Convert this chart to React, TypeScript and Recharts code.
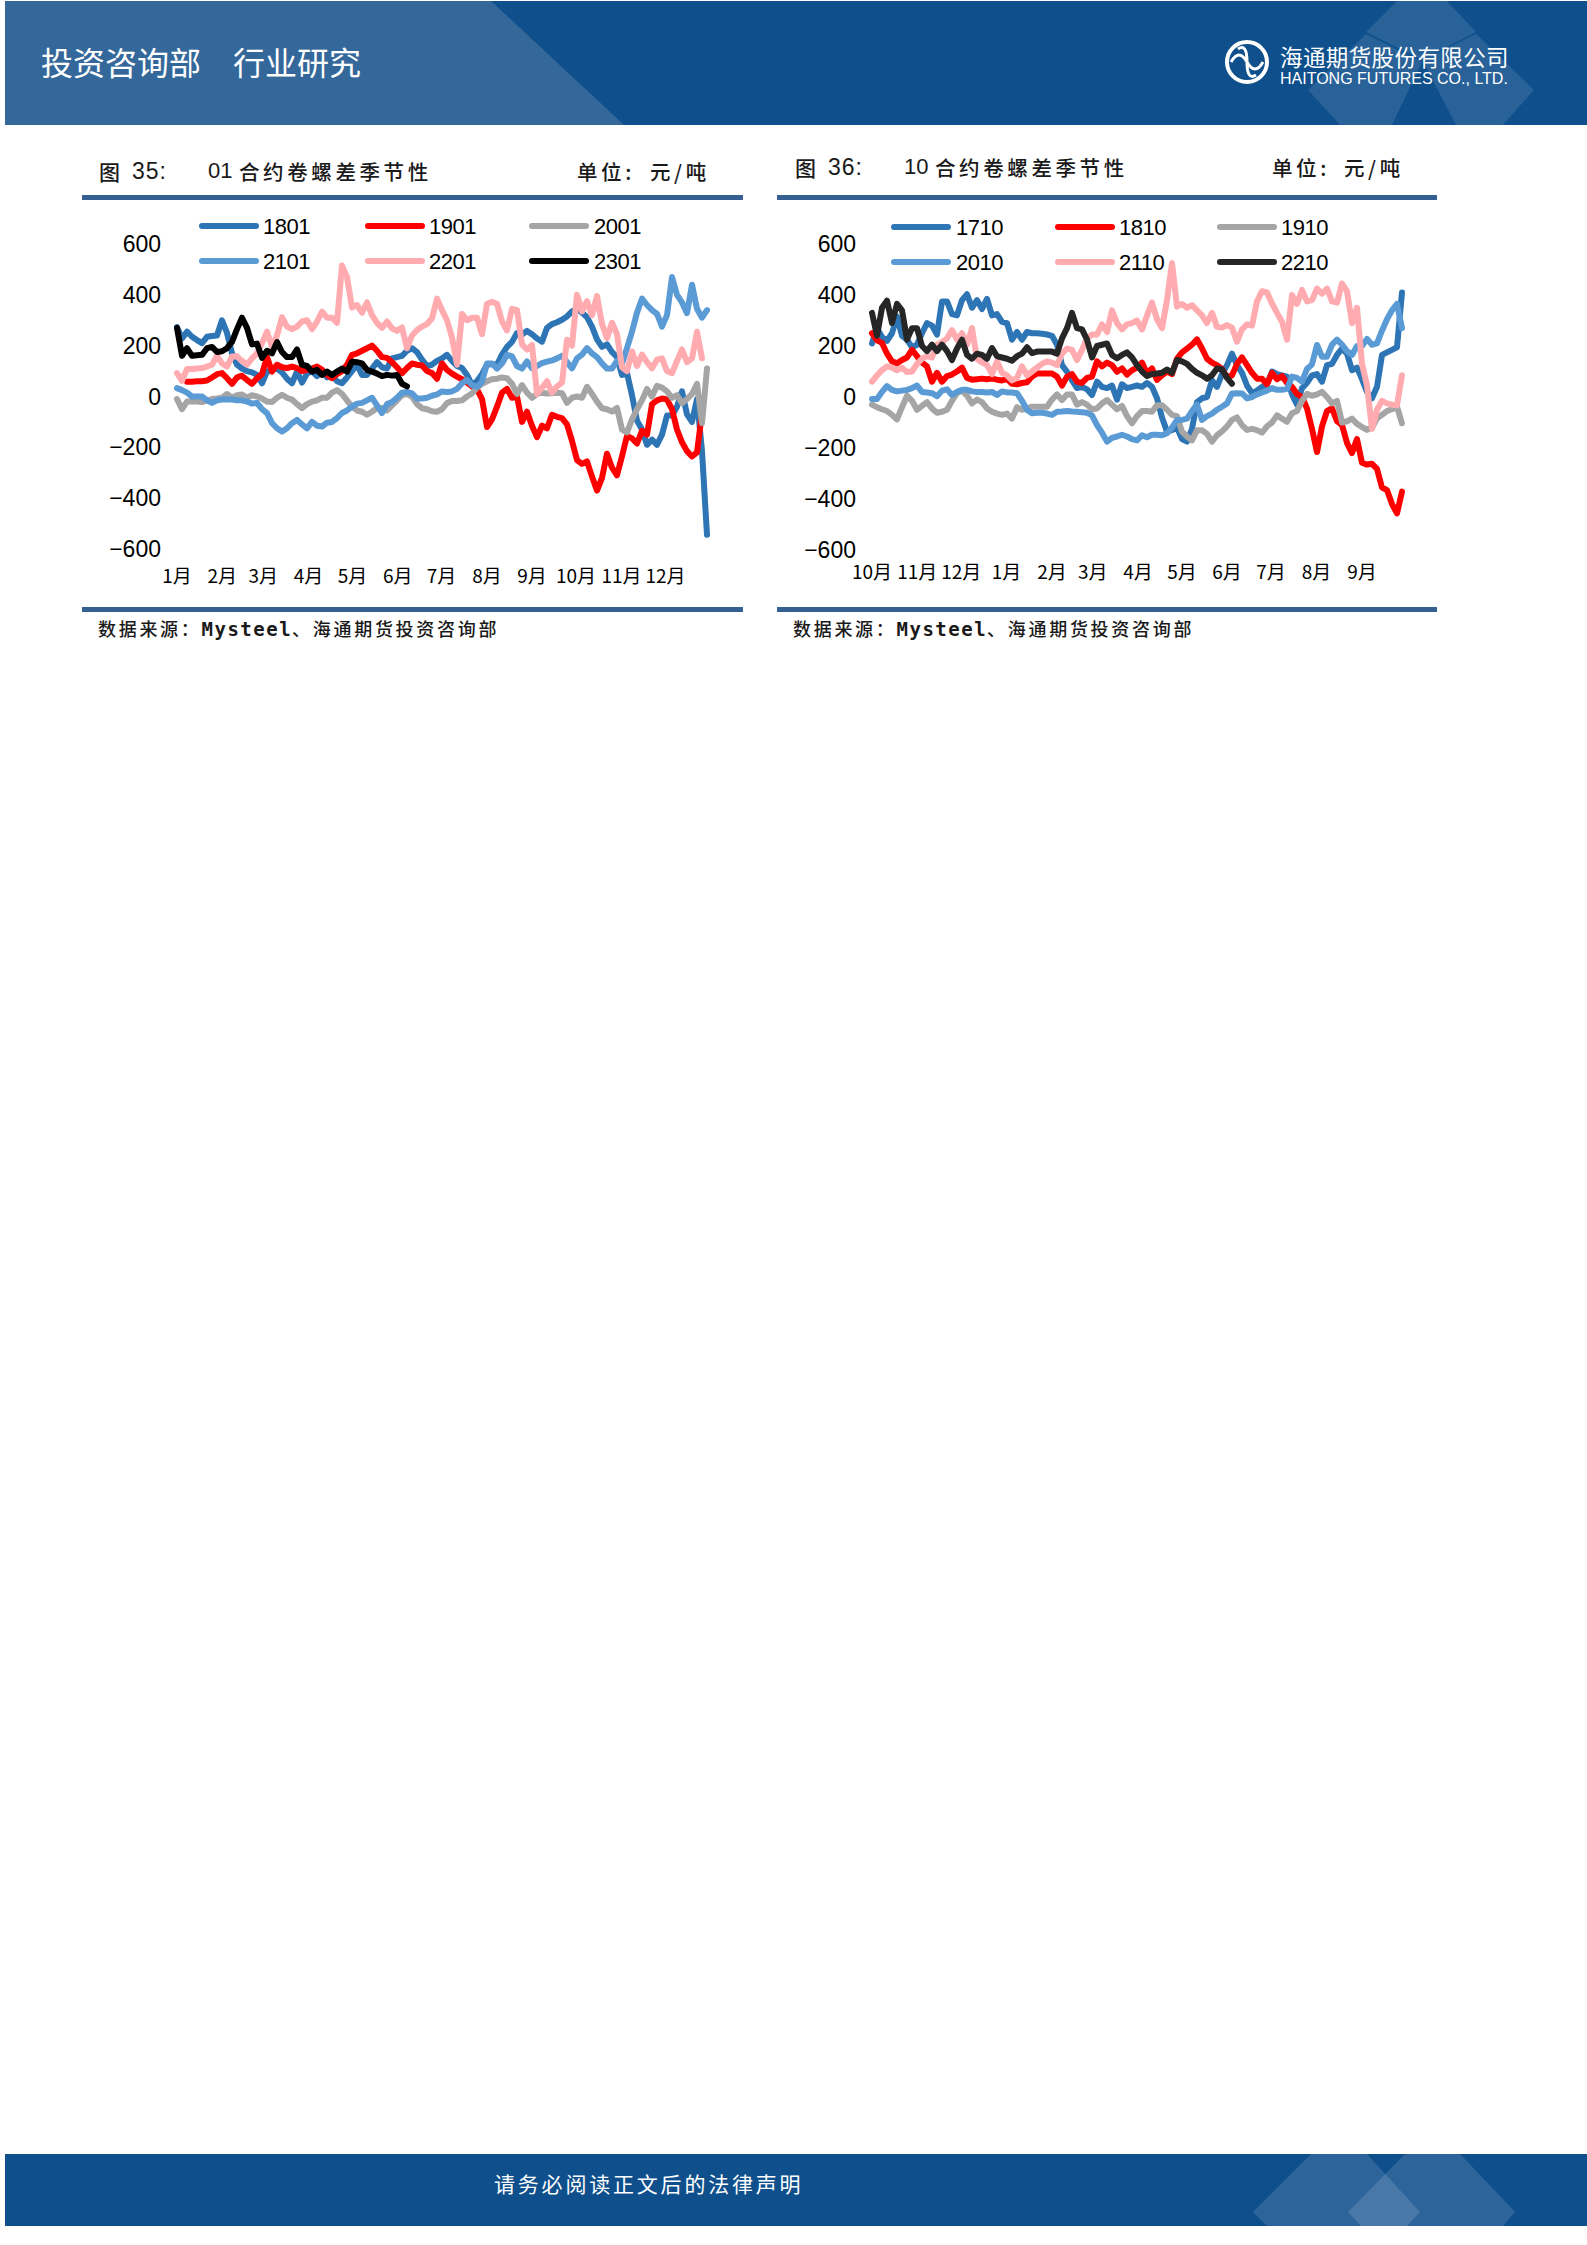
import React from 'react'
import { LineChart, Line, XAxis, YAxis, Legend } from 'recharts'

const _ = null

// 图 35: 01 contracts
const months01 = ['1月', '2月', '3月', '4月', '5月', '6月', '7月', '8月', '9月', '10月', '11月', '12月']
const monthTicks01 = [0, 9.06, 17.25, 26.3, 35.1, 44.15, 52.9, 62, 71, 79.8, 88.9, 97.7]
const s1801 = [
  273, 228, 255, 235, 222, 210, 235, 238, 240, 300,
  250, 170, 125, 110, 100, 95, 85, 52, 98, 105,
  110, 95, 70, 52, 98, 55, 90, 100, 80, 105,
  75, 85, 60, 52, 75, 100, 125, 85, 85, 110,
  135, 115, 110, 150, 155, 160, 180, 190, 175, 145,
  120, 125, 140, 150, 164, 140, 120, 112, 85, 45,
  60, 88, 125, 128, 125, 165, 195, 215, 250, 243,
  258, 245, 228, 216, 270, 285, 292, 302, 315, 335,
  345, 330, 312, 275, 225, 195, 205, 175, 155, 85,
  92, 5, -95, -130, -190, -170, -190, -150, -75, -75,
  -40, 20, -70, -100, -10, -215, -544,
]
const s1901 = [
  _, _, 58, 58, 60, 60, 63, 75, 88, 92,
  72, 50, 75, 82, 65, 50, 72, 88, 155, 98,
  125, 115, 112, 118, 112, 100, 105, 110, 118, 105,
  85, 72, 88, 100, 125, 164, 170, 180, 190, 200,
  180, 155, 152, 135, 115, 92, 112, 130, 125, 122,
  100, 92, 70, 130, 105, 90, 78, 68, 55, 40,
  28, -10, -120, -90, -40, 15, 30, -5, 0, -100,
  -60, -115, -160, -115, -125, -72, -80, -85, -110, -175,
  -250, -265, -255, -315, -370, -320, -225, -280, -310, -235,
  -155, -165, -185, -135, -150, -30, -15, -8, -12, -50,
  -130, -180, -215, -236, -220, -65, _,
]
const s2001 = [
  -10, -50, -20, -20, -20, -22, -15, -10, -8, -5,
  10, -5, 5, 8, -5, 5, 0, -8, -20, -22,
  -5, 7, -5, -12, -30, -46, -30, -20, -15, -5,
  -5, 15, 25, 10, -15, -40, -55, -60, -72, -60,
  -45, -45, -55, -35, -15, 5, 10, 0, -30, -46,
  -50, -58, -60, -50, -26, -18, -18, -15, 0, 12,
  35, 50, 60, 68, 70, 75, 72, 50, 10, 45,
  15, -5, 10, 15, 12, 13, 15, 13, -25, -5,
  0, -5, 38, 10, -20, -46, -50, -59, -45, -130,
  -141, -90, -50, -15, 30, 0, 42, 35, 20, -5,
  5, -26, -10, 10, 50, -105, 110,
]
const s2101 = [
  33, 25, 15, 0, 0, 0, -15, -25, -15, -12,
  -12, -12, -15, -15, -20, -28, -25, -50, -65, -105,
  -125, -138, -125, -105, -92, -110, -125, -100, -115, -118,
  -103, -100, -85, -65, -55, -40, -28, -25, -15, -5,
  -35, -65, -30, -22, -5, 15, 18, 12, -8, -8,
  -5, 3, 8, 20, 18, 20, 30, 52, 65, 45,
  38, 58, 130, 130, 110, 130, 164, 158, 120, 110,
  138, 111, 120, 131, 137, 142, 150, 160, 135, 111,
  150, 165, 190, 170, 155, 130, 110, 110, 140, 128,
  190, 255, 330, 385, 360, 340, 325, 275, 320, 470,
  400, 370, 328, 440, 345, 310, 340,
]
const s2201 = [
  92, 62, 108, 108, 110, 112, 118, 125, 160, 130,
  118, 157, 158, 140, 125, 150, 170, 210, 255, 195,
  240, 312, 275, 265, 275, 295, 300, 265, 295, 334,
  310, 310, 290, 515, 470, 350, 360, 330, 370, 320,
  290, 270, 295, 268, 258, 272, 190, 240, 262, 275,
  285, 308, 385, 340, 300, 232, 125, 325, 300, 310,
  310, 245, 365, 372, 365, 295, 260, 345, 340, 205,
  185, 203, 10, 35, 60, 15, 40, 55, 223, 200,
  400, 335, 375, 320, 395, 285, 230, 290, 245, 115,
  100, 177, 120, 165, 135, 111, 145, 150, 100, 92,
  140, 185, 135, 150, 255, 150, _,
]
const s2301 = [
  270, 160, 190, 160, 162, 164, 190, 195, 175, 178,
  190, 215, 265, 310, 270, 205, 208, 152, 180, 170,
  214, 175, 155, 155, 185, 125, 120, 98, 105, 85,
  98, 85, 98, 110, 98, 137, 135, 130, 105, 98,
  90, 80, 85, 82, 85, 50, 40,
]

// 图 36: 10 contracts
const months10 = ['10月', '11月', '12月', '1月', '2月', '3月', '4月', '5月', '6月', '7月', '8月', '9月']
const monthTicks10 = [0, 9.06, 17.84, 26.9, 36, 44.15, 53.2, 62, 71, 79.8, 88.9, 98]
const s1710 = [
  210, 270, 235, 220, 250, 315, 240, 225, 195, 205,
  250, 290, 280, 245, 375, 375, 325, 320, 380, 403,
  350, 380, 345, 385, 320, 325, 295, 290, 225, 255,
  225, 255, 250, 250, 248, 245, 240, 205, 125, 99,
  65, 35, 40, 30, 8, 60, 40, 35, 45, -10,
  50, 35, 40, 45, 40, 55, 40, -5, -80, -135,
  -130, -120, -165, -175, -125, -20, -5, 0, 65, 40,
  90, 125, 170, 125, 95, 45, 15, 25, 40, 50,
  100, 90, 85, 80, 10, -30, 35, 55, 85, 90,
  60, 125, 130, 165, 190, 170, 105, 115, 70, 20,
  -5, 40, 165, 175, 185, 195, 410,
]
const s1810 = [
  250, 222, 212, 170, 140, 132, 145, 155, 185, 160,
  135, 120, 60, 95, 60, 82, 88, 100, 115, 75,
  68, 70, 72, 70, 72, 68, 65, 70, 52, 50,
  55, 58, 80, 92, 92, 92, 92, 80, 45, 80,
  90, 60, 55, 75, 80, 140, 120, 135, 125, 99,
  112, 88, 105, 115, 135, 92, 112, 67, 85, 100,
  90, 150, 175, 190, 205, 226, 190, 150, 135, 125,
  110, 78, 85, 130, 155, 125, 95, 72, 72, 50,
  95, 70, 82, 55, 40, 12, 0, -45, -125, -216,
  -115, -55, -44, -95, -110, -180, -220, -165, -258, -265,
  -262, -282, -355, -365, -420, -456, -371,
]
const s1910 = [
  -30, -40, -48, -55, -70, -88, -40, 5, -15, -50,
  -35, -20, -45, -62, -58, -50, -15, 15, 25, 5,
  -25, -10, -20, -45, -58, -65, -70, -65, -85, -40,
  -50, -45, -38, -38, -38, -38, -10, 10, -12, 10,
  10, -30, -20, -30, -48, -45, -25, -12, -30, -48,
  -35, -75, -103, -75, -55, -55, -58, -32, -32, -50,
  -70, -75, -136, -155, -170, -130, -130, -145, -175, -150,
  -135, -115, -90, -80, -110, -129, -125, -130, -140, -115,
  -100, -72, -85, -97, -64, -55, -15, 12, 5, 10,
  20, 0, -25, -15, -100, -95, -85, -105, -118, -129,
  -120, -84, -70, -55, -48, -38, -103,
]
const s2010 = [
  -8, -8, 20, 43, 28, 22, 25, 28, 35, 45,
  20, 18, 15, 3, 25, 30, 8, 20, 28, 28,
  22, 20, 20, 18, 20, 8, 22, 18, 18, 15,
  -15, -50, -64, -62, -62, -65, -70, -58, -57, -55,
  -57, -58, -60, -62, -72, -110, -140, -175, -160, -155,
  -148, -155, -165, -170, -150, -158, -148, -148, -150, -142,
  -120, -90, -90, -85, -55, -30, -90, -75, -65, -50,
  -38, -25, 14, 15, 14, -5, 0, 10, 18, 25,
  35, 28, 28, 32, 80, 75, 60, 110, 128, 204,
  158, 158, 205, 225, 205, 180, 165, 200, 200, 228,
  205, 210, 260, 305, 340, 365, 270,
]
const s2110 = [
  60, 85, 105, 120, 115, 105, 115, 98, 100, 130,
  150, 160, 155, 205, 215, 230, 262, 225, 250, 205,
  270, 150, 135, 125, 90, 140, 95, 85, 65, 75,
  120, 85, 100, 115, 130, 140, 135, 125, 170, 190,
  185, 145, 185, 230, 245, 245, 285, 255, 340, 290,
  265, 285, 290, 300, 265, 320, 370, 305, 270, 380,
  525, 354, 365, 350, 360, 340, 320, 290, 330, 275,
  272, 282, 272, 217, 265, 285, 280, 375, 415, 410,
  367, 330, 295, 225, 400, 365, 420, 375, 380, 425,
  405, 425, 375, 370, 445, 415, 290, 350, 130, 45,
  -125, -50, -15, -25, -30, -32, 85,
]
const s2210 = [
  330, 240, 350, 378, 290, 365, 340, 225, 270, 270,
  200, 180, 205, 180, 205, 180, 145, 190, 225, 165,
  150, 170, 165, 150, 192, 160, 155, 150, 142, 160,
  170, 195, 172, 178, 178, 178, 178, 170, 230, 270,
  330, 270, 265, 225, 155, 200, 205, 210, 165, 152,
  165, 175, 155, 125, 100, 82, 90, 92, 95, 108,
  95, 145, 140, 130, 110, 95, 85, 72, 85, 112,
  108, 75, 52,
]

const yTicks = [-600, -400, -200, 0, 200, 400, 600]

const BLUE = '#2E75B6'
const RED = '#FF0000'
const GRAY = '#A5A5A5'
const LIGHT = '#5B9BD5'
const PINK = '#FFABB0'
const RULE = '#376092'
const BAND = '#0E4F8C'
const SANS = '"Liberation Sans", Arial, sans-serif'
const CJK = '"Noto Sans CJK SC", sans-serif'

type Series = { name: string; values: (number | null)[]; color: string }

const series01: Series[] = [
  { name: '1801', values: s1801, color: BLUE },
  { name: '1901', values: s1901, color: RED },
  { name: '2001', values: s2001, color: GRAY },
  { name: '2101', values: s2101, color: LIGHT },
  { name: '2201', values: s2201, color: PINK },
  { name: '2301', values: s2301, color: '#000000' },
]
const series10: Series[] = [
  { name: '1710', values: s1710, color: BLUE },
  { name: '1810', values: s1810, color: RED },
  { name: '1910', values: s1910, color: GRAY },
  { name: '2010', values: s2010, color: LIGHT },
  { name: '2110', values: s2110, color: PINK },
  { name: '2210', values: s2210, color: '#262626' },
]

function buildRows(list: Series[]) {
  return Array.from({ length: 107 }, (_v, i) => {
    const row: Record<string, number | null> = { i }
    list.forEach(s => {
      row[s.name] = s.values[i] ?? null
    })
    return row
  })
}

function LegendBox({ list, lineX, textX, rowY }: { list: Series[]; lineX: number[]; textX: number[]; rowY: number[] }) {
  return (
    <svg width={650} height={100} style={{ display: 'block', overflow: 'visible' }}>
      {list.map((s, n) => {
        const col = n % 3
        const y = rowY[n < 3 ? 0 : 1]
        return (
          <g key={s.name}>
            <line x1={lineX[col]} x2={lineX[col] + 54} y1={y} y2={y} stroke={s.color} strokeWidth={6} strokeLinecap="round" />
            <text x={textX[col]} y={y + 8} fontFamily={SANS} fontSize={22} letterSpacing={-0.5} fill="#000">{s.name}</text>
          </g>
        )
      })}
    </svg>
  )
}

function SeasonChart({ left, list, months, monthTicks, lineX, textX, rowY, height, labelGap }: {
  left: number; list: Series[]; months: string[]; monthTicks: number[]; lineX: number[]; textX: number[]; rowY: number[]; height: number; labelGap: number
}) {
  const rows = buildRows(list)
  return (
    <div style={{ position: 'absolute', left, top: 190 }}>
      <LineChart width={650} height={height} data={rows} margin={{ top: 54, right: 25, bottom: 0, left: 0 }}>
        <XAxis
          dataKey="i"
          type="number"
          domain={[0, 106]}
          ticks={monthTicks}
          interval={0}
          tickFormatter={(v: number) => months[monthTicks.indexOf(v)]}
          axisLine={false}
          tickLine={false}
          height={41}
          tickMargin={labelGap}
          tick={{ fontFamily: CJK, fontSize: 19, fill: '#000' }}
        />
        <YAxis
          type="number"
          domain={[-600, 600]}
          ticks={yTicks}
          interval={0}
          width={95}
          axisLine={false}
          tickLine={false}
          tickMargin={10}
          tickFormatter={(v: number) => String(v).replace('-', '\u2212')}
          tick={{ fontFamily: SANS, fontSize: 23, fill: '#000' }}
        />
        <Legend
          layout="horizontal"
          verticalAlign="middle"
          align="center"
          wrapperStyle={{ left: 0, top: 0, width: 650, height: 100 }}
          content={() => <LegendBox list={list} lineX={lineX} textX={textX} rowY={rowY} />}
        />
        {list.map(s => (
          <Line
            key={s.name}
            dataKey={s.name}
            stroke={s.color}
            strokeWidth={6}
            strokeLinejoin="round"
            strokeLinecap="round"
            dot={false}
            type="linear"
            connectNulls={false}
            isAnimationActive={false}
          />
        ))}
      </LineChart>
    </div>
  )
}

function Txt({ x, y, size, children, color = '#1a1a1a', spacing = 0, font = CJK, weight = 400 }: {
  x: number; y: number; size: number; children: React.ReactNode; color?: string; spacing?: number; font?: string; weight?: number
}) {
  return (
    <div style={{
      position: 'absolute', left: x, top: y - size, height: size * 2, lineHeight: `${size * 2}px`,
      fontSize: size, fontFamily: font, color, letterSpacing: spacing, whiteSpace: 'pre', fontWeight: weight,
    }}>
      {children}
    </div>
  )
}

function Panel({ x, rightEdge, figNo, code, title, titleY, unitX, valueX, figX, titleX, srcX, srcY }: {
  x: number; rightEdge: number; figNo: string; code: string; title: string; titleY: number; unitX: number; valueX: number; figX: number; titleX: number; srcX: number; srcY: number
}) {
  return (
    <>
      <Txt x={figX} y={titleY} size={21} weight={500}>图</Txt>
      <Txt x={figX + 33} y={titleY} size={23} font={SANS} spacing={1}>{figNo}:</Txt>
      <Txt x={titleX} y={titleY} size={22} font={SANS}>{code}</Txt>
      <Txt x={titleX + 31} y={titleY} size={20.5} spacing={3.6} weight={500}>{title}</Txt>
      <Txt x={unitX} y={titleY} size={20.5} spacing={3.6} weight={500}>单位:</Txt>
      <Txt x={valueX} y={titleY} size={20.5} spacing={3.6} weight={500}>元/吨</Txt>
      <div style={{ position: 'absolute', left: x, top: 194.5, width: rightEdge - x, height: 5.5, background: RULE }} />
      <div style={{ position: 'absolute', left: x, top: 606.5, width: rightEdge - x, height: 5.5, background: RULE }} />
      <Txt x={srcX} y={srcY} size={18} spacing={2.7} weight={500}>{'数据来源\uFF1A'}<span style={{ fontFamily: '"DejaVu Sans Mono", monospace', fontWeight: 700, fontSize: 19, letterSpacing: 1.5 }}>Mysteel</span>、海通期货投资咨询部</Txt>
    </>
  )
}

export default function App() {
  return (
    <div style={{ position: 'absolute', left: 0, top: 0, width: 1587, height: 2245, background: '#fff', overflow: 'hidden' }}>
      <svg width={1587} height={2245} style={{ position: 'absolute', left: 0, top: 0 }}>
        {/* top band */}
        <rect x={5} y={1} width={1582} height={124} fill={BAND} />
        <polygon points="5,1 491,1 624,125 5,125" fill="#35689A" />
        <g fill="#fff" fillOpacity={0.11}>
          <polygon points="1397,1 1447,1 1476,32 1422,60 1366,32" />
          <polygon points="1366,34 1422,62 1392,125 1340,125 1308,90" />
          <polygon points="1422,60 1476,34 1534,90 1503,125 1456,125" />
        </g>
        {/* logo */}
        <circle cx={1247} cy={62} r={20} fill="none" stroke="#fff" strokeWidth={4} />
        <path d="M1231 62 q8 -14 16 0 q8 14 16 0 M1238 49 q9 -6 9 13 q0 19 9 13" fill="none" stroke="#fff" strokeWidth={3} />
        {/* bottom band */}
        <rect x={5} y={2154} width={1582} height={72} fill={BAND} />
        <g fill="#fff" fillOpacity={0.13}>
          <polygon points="1311,2154 1367,2154 1420,2212 1407,2226 1267,2226 1253,2212" />
          <polygon points="1405,2154 1460,2154 1515,2212 1503,2226 1361,2226 1348,2212" />
        </g>
      </svg>

      <Txt x={41} y={61} size={32} color="#fff">投资咨询部</Txt>
      <Txt x={233} y={61} size={32} color="#fff">行业研究</Txt>
      <Txt x={1280} y={56} size={22.5} color="#fff" spacing={0.4}>海通期货股份有限公司</Txt>
      <Txt x={1280} y={79} size={16} color="#fff" font={SANS}>HAITONG FUTURES CO., LTD.</Txt>
      <Txt x={494} y={2183} size={21} color="#fff" spacing={2.8}>请务必阅读正文后的法律声明</Txt>

      <Panel x={82} rightEdge={743} figNo="35" code="01" title="合约卷螺差季节性" titleY={171} unitX={577} valueX={650} figX={99} titleX={208} srcX={98} srcY={628} />
      <Panel x={777} rightEdge={1437} figNo="36" code="10" title="合约卷螺差季节性" titleY={167} unitX={1272} valueX={1344} figX={795} titleX={904} srcX={793} srcY={628} />

      <SeasonChart left={82} list={series01} months={months01} monthTicks={monthTicks01} lineX={[120, 286, 450]} textX={[181, 347, 512]} rowY={[36, 71]} height={400} labelGap={15} />
      <SeasonChart left={777} list={series10} months={months10} monthTicks={monthTicks10} lineX={[117, 281, 443]} textX={[179, 342, 504]} rowY={[37, 72]} height={401} labelGap={10} />
    </div>
  )
}
